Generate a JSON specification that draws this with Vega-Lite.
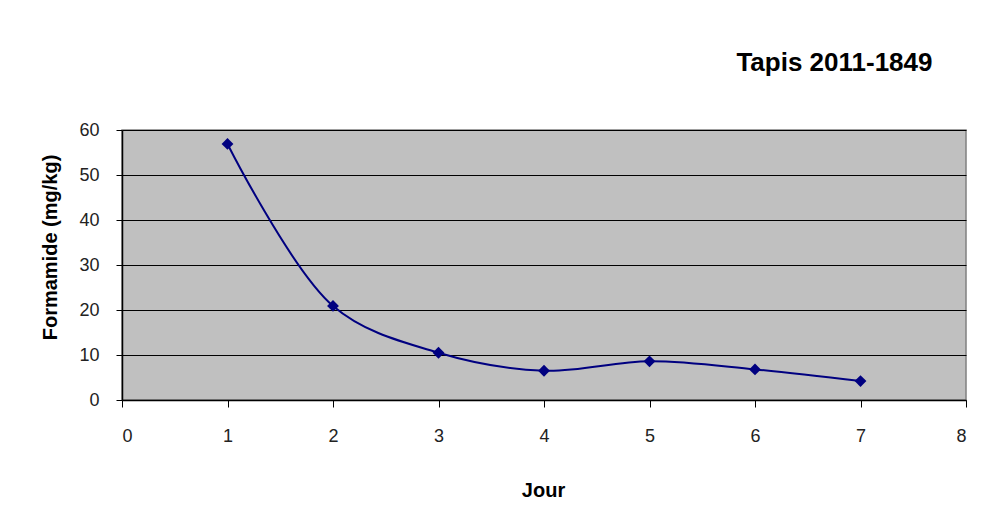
{
  "$schema": "https://vega.github.io/schema/vega-lite/v6.json",
  "width": 844,
  "height": 270,
  "autosize": "none",
  "padding": {"left": 122, "top": 130, "right": 16, "bottom": 121},
  "background": "white",
  "config": {
    "font": "Liberation Sans",
    "view": {"fill": "#C0C0C0", "stroke": "#808080", "strokeWidth": 1.5}
  },
  "title": {
    "text": "Tapis 2011-1849",
    "anchor": "end",
    "fontSize": 26,
    "fontWeight": "bold",
    "font": "Liberation Sans",
    "color": "black",
    "offset": 45,
    "dx": -34
  },
  "data": {
    "values": [
      {"jour": 1, "formamide": 56.9},
      {"jour": 2, "formamide": 20.9},
      {"jour": 3, "formamide": 10.5},
      {"jour": 4, "formamide": 6.5},
      {"jour": 5, "formamide": 8.6},
      {"jour": 6, "formamide": 6.8},
      {"jour": 7, "formamide": 4.2}
    ]
  },
  "encoding": {
    "x": {
      "field": "jour",
      "type": "quantitative",
      "scale": {"domain": [0, 8], "nice": false},
      "axis": {
        "title": "Jour",
        "values": [0, 1, 2, 3, 4, 5, 6, 7, 8],
        "grid": false,
        "domainColor": "black",
        "domainWidth": 1.5,
        "tickColor": "black",
        "tickSize": 7,
        "labelFontSize": 18,
        "labelColor": "#222222",
        "labelPadding": 20,
        "labelFont": "Liberation Sans",
        "titleFont": "Liberation Sans",
        "titleFontSize": 20,
        "titleFontWeight": "bold",
        "titleColor": "black",
        "titleX": 421,
        "titleY": 90,
        "titleBaseline": "middle"
      }
    },
    "y": {
      "field": "formamide",
      "type": "quantitative",
      "scale": {"domain": [0, 60], "nice": false},
      "axis": {
        "title": "Formamide (mg/kg)",
        "values": [0, 10, 20, 30, 40, 50, 60],
        "grid": true,
        "gridColor": "black",
        "gridOpacity": 1,
        "gridWidth": 1,
        "domainColor": "black",
        "domainWidth": 1.5,
        "tickColor": "black",
        "tickSize": 6,
        "labelFontSize": 18,
        "labelColor": "#222222",
        "labelPadding": 17,
        "labelFont": "Liberation Sans",
        "titleFont": "Liberation Sans",
        "titleFontSize": 20,
        "titleFontWeight": "bold",
        "titleColor": "black",
        "titleAngle": -90,
        "titleX": -72,
        "titleY": 117,
        "titleBaseline": "middle"
      }
    }
  },
  "layer": [
    {
      "mark": {"type": "line", "interpolate": "catmull-rom", "color": "#000080", "strokeWidth": 2}
    },
    {
      "mark": {"type": "point", "shape": "diamond", "filled": true, "color": "#000080", "size": 140, "opacity": 1}
    }
  ]
}
